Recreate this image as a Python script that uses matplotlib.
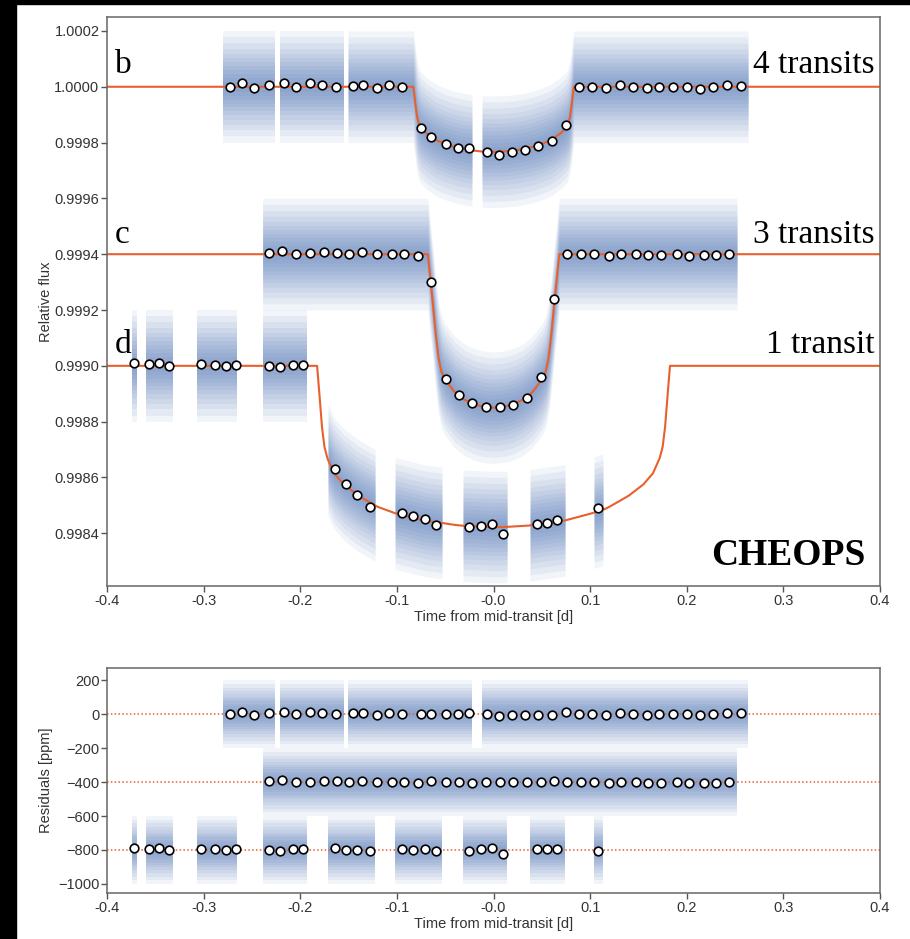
import numpy as np
import matplotlib
matplotlib.use("Agg")
import matplotlib.pyplot as plt
from matplotlib.patches import Rectangle

# ---- binned photometry (time [d], flux deviation [ppm]) ----
b_t = [-0.2727, -0.2603, -0.2476, -0.2323, -0.2165, -0.2044, -0.1899, -0.1772, -0.1633, -0.1454,
       -0.1347, -0.1206, -0.1078, -0.0944, -0.0750, -0.0644, -0.0495, -0.0371, -0.0250, -0.0070,
       0.0054, 0.0195, 0.0323, 0.0464, 0.0609, 0.0747, 0.0888, 0.1019, 0.1161, 0.1306,
       0.1447, 0.1585, 0.1716, 0.1861, 0.2003, 0.2134, 0.2272, 0.2413, 0.2561]
b_ppm = [-2, 13, -4, 5, 12, -1, 12, 6, -1, 4,
         7, -4, 5, -1, -147, -181, -206, -220, -220, -233,
         -246, -232, -227, -212, -196, -137, -2, 0, -6, 5,
         0, -3, 0, -2, -2, -8, -2, 5, 4]
b_res = [-2, 13, -4, 5, 12, -1, 12, 6, -1, 4,
         7, -4, 5, -1, 1, -2, 0, -2, 6, 0,
         -13, -3, -5, -3, -8, 12, -2, 0, -6, 5,
         0, -3, 0, -2, -2, -8, -2, 5, 4]

c_t = [-0.2320, -0.2186, -0.2047, -0.1902, -0.1751, -0.1623, -0.1492, -0.1358, -0.1206, -0.1054,
       -0.0929, -0.0784, -0.0650, -0.0497, -0.0362, -0.0223, -0.0083, 0.0067, 0.0202, 0.0347,
       0.0492, 0.0623, 0.0758, 0.0902, 0.1037, 0.1198, 0.1320, 0.1472, 0.1602, 0.1730,
       0.1902, 0.2020, 0.2178, 0.2303, 0.2434]
c_ppm = [6, 13, -1, 3, 7, 4, -1, 8, 1, 1,
         0, -6, -99, -448, -505, -534, -548, -546, -541, -516,
         -441, -160, 1, 1, 0, -5, 1, -1, -4, -4,
         -1, -8, -3, -4, 1]
c_res = [6, 13, -1, 3, 7, 4, -1, 8, 1, 1,
         0, -6, 4, -2, -2, -3, -1, 0, -2, -2,
         -1, 8, 1, 1, 0, -5, 1, -1, -4, -4,
         -1, -8, -3, -4, 1]

d_t = [-0.3717, -0.3562, -0.3462, -0.3355, -0.3024, -0.2882, -0.2772, -0.2665, -0.2320, -0.2209,
       -0.2071, -0.1968, -0.1640, -0.1526, -0.1413, -0.1278, -0.0947, -0.0833, -0.0709, -0.0595,
       -0.0254, -0.0129, -0.0016, 0.0098, 0.0450, 0.0554, 0.0657, 0.1082]
d_ppm = [10, 7, 10, 1, 7, 3, -1, 3, 0, -5,
         4, 4, -369, -423, -462, -505, -527, -538, -548, -570,
         -577, -573, -566, -602, -566, -563, -552, -509]
d_res = [10, 7, 10, 1, 7, 3, -1, 3, 0, -5,
         4, 4, 10, 0, 2, -5, 3, 2, 6, -6,
         -5, 4, 12, -25, 4, 5, 3, -3]

# ---- best-fit transit models (time [d], ppm) ----
b_mt = [-0.40, -0.280, -0.226, -0.221, -0.1547, -0.1506, -0.083, -0.081, -0.079, -0.077,
        -0.075, -0.070, -0.060, -0.050, -0.040, -0.030, -0.0223, -0.0119, 0.000, 0.010,
        0.020, 0.030, 0.040, 0.050, 0.060, 0.070, 0.075, 0.077, 0.079, 0.081,
        0.083, 0.2634, 0.40]
b_mf = [0, 0, 0, 0, 0, 0, 0, -60, -110, -135,
        -148, -165, -190, -205, -216, -224, -228, -232, -233, -232,
        -229, -224, -216, -205, -190, -165, -148, -135, -110, -60,
        0, 0, 0]

c_mt = [-0.40, -0.239, -0.068, -0.066, -0.063, -0.060, -0.057, -0.054, -0.050, -0.040,
        -0.030, -0.020, -0.010, 0.000, 0.010, 0.020, 0.030, 0.040, 0.050, 0.054,
        0.057, 0.060, 0.063, 0.066, 0.068, 0.252, 0.40]
c_mf = [0, 0, 0, -70, -170, -280, -370, -420, -450, -495,
        -522, -538, -547, -550, -547, -538, -522, -495, -450, -420,
        -370, -280, -170, -70, 0, 0, 0]

d_mt = [-0.40, -0.3744, -0.3693, -0.3596, -0.3317, -0.3072, -0.2658, -0.2385, -0.1930, -0.1826,
        -0.180, -0.1775, -0.175, -0.172, -0.1713, -0.165, -0.155, -0.140, -0.1226, -0.120,
        -0.1019, -0.100, -0.070, -0.0533, -0.040, -0.0316, 0.000, 0.0140, 0.0378, 0.040,
        0.070, 0.0740, 0.100, 0.1040, 0.1133, 0.120, 0.140, 0.155, 0.165, 0.172,
        0.175, 0.1775, 0.180, 0.1826, 0.40]
d_mf = [0, 0, 0, 0, 0, 0, 0, 0, 0, 0,
        -110, -220, -290, -330, -337, -385, -425, -465, -500, -505,
        -528, -530, -556, -563, -570, -573, -578, -577, -572, -570,
        -556, -554, -530, -526, -516, -505, -465, -425, -385, -330,
        -290, -220, -110, 0, 0]

# time ranges covered by the unbinned CHEOPS data
b_seg = [(-0.280, -0.226), (-0.221, -0.1547), (-0.1506, -0.0223), (-0.0119, 0.2634)]
c_seg = [(-0.239, 0.252)]
d_seg = [(-0.3744, -0.3693), (-0.3596, -0.3317), (-0.3072, -0.2658), (-0.2385, -0.1930),
         (-0.1713, -0.1226), (-0.1019, -0.0533), (-0.0316, 0.0140), (0.0378, 0.0740),
         (0.1040, 0.1133)]

flux_base = [1.0, 0.9994, 0.9990]
res_base = [0, -400, -800]
labels = ["b", "c", "d"]
counts = ["4 transits", "3 transits", "1 transit"]

# half widths (ppm) of the shaded scatter layers
spread = [200, 178, 156, 136, 118, 102, 88, 74, 60, 46, 32, 18]

blue = "#4a70b4"
red = "#e8602c"
gray = "#555555"

plt.rcParams["font.family"] = ["Liberation Sans", "DejaVu Sans"]

fig = plt.figure(figsize=(9.1, 9.39), dpi=100)
ax = fig.add_axes([0.1176, 0.3759, 0.8495, 0.606])
axr = fig.add_axes([0.1176, 0.0490, 0.8495, 0.2396])

planets = [(b_t, b_ppm, b_res, b_mt, b_mf, b_seg),
           (c_t, c_ppm, c_res, c_mt, c_mf, c_seg),
           (d_t, d_ppm, d_res, d_mt, d_mf, d_seg)]

for i, (t, f, r, mt, mf, seg) in enumerate(planets):
    base = flux_base[i]
    mt = np.array(mt)
    mf = np.array(mf)
    for t0, t1 in seg:
        m = (mt >= t0) & (mt <= t1)
        for hw in spread:
            ax.fill_between(mt[m], base + (mf[m] - hw) * 1e-6, base + (mf[m] + hw) * 1e-6,
                            color=blue, alpha=0.075, lw=0, zorder=1)
            axr.fill_between([t0, t1], res_base[i] - hw, res_base[i] + hw,
                             color=blue, alpha=0.075, lw=0, zorder=1)
    ax.plot(mt, base + mf * 1e-6, color=red, lw=1.5, zorder=2)
    ax.plot(t, base + np.array(f) * 1e-6, "o", ms=6.2, mfc="white", mec="black",
            mew=1.2, zorder=3)
    axr.axhline(res_base[i], color=red, lw=1.1, ls=(0, (1, 1.5)), zorder=2)
    axr.plot(t, res_base[i] + np.array(r), "o", ms=6.2, mfc="white", mec="black",
             mew=1.2, zorder=3)

# planet and transit-count labels
lab_y = [0.9016, 0.603, 0.4095]
for i in range(3):
    ax.text(0.0105, lab_y[i], labels[i], transform=ax.transAxes, ha="left", va="baseline",
            fontsize=24, family="Liberation Serif")
    ax.text(0.9935, lab_y[i], counts[i], transform=ax.transAxes, ha="right", va="baseline",
            fontsize=24, family="Liberation Serif")
ax.text(0.9806, 0.037, "CHEOPS", transform=ax.transAxes, ha="right", va="baseline",
        fontsize=27, fontweight="bold", family="Liberation Serif")

ax.set_xlim(-0.4, 0.4)
ax.set_ylim(0.998211, 1.00025)
ax.set_yticks(np.arange(0.9984, 1.00021, 0.0002))
ax.yaxis.set_major_formatter(matplotlib.ticker.FormatStrFormatter("%.4f"))
ax.set_ylabel("Relative flux")
axr.set_ylim(-1053, 271)
axr.set_yticks(np.arange(-1000, 201, 200))
axr.set_ylabel("Residuals [ppm]")

for a in (ax, axr):
    a.set_xlim(-0.4, 0.4)
    a.set_xticks(np.arange(-0.4, 0.41, 0.1))
    a.xaxis.set_major_formatter(matplotlib.ticker.FormatStrFormatter("%.1f"))
    a.set_xlabel("Time from mid-transit [d]", fontsize=10.5, color="#333333", labelpad=2)
    a.yaxis.label.set_fontsize(10.5)
    a.yaxis.label.set_color("#333333")
    a.yaxis.set_label_coords(-0.070, 0.5)
    a.tick_params(direction="out", length=4, width=1, color=gray, labelsize=10.5,
                  labelcolor="#333333", pad=1.5, top=False, right=False)
    for s in a.spines.values():
        s.set_color("#666666")
        s.set_linewidth(1.1)

# dark frame along the left and top edges
fig.patches.append(Rectangle((0, 0), 16 / 910, 1, transform=fig.transFigure,
                             color="black", zorder=10))
fig.patches.append(Rectangle((0, 1 - 4 / 939), 1, 4 / 939, transform=fig.transFigure,
                             color="black", zorder=10))

fig.savefig("out.png", dpi=100)
